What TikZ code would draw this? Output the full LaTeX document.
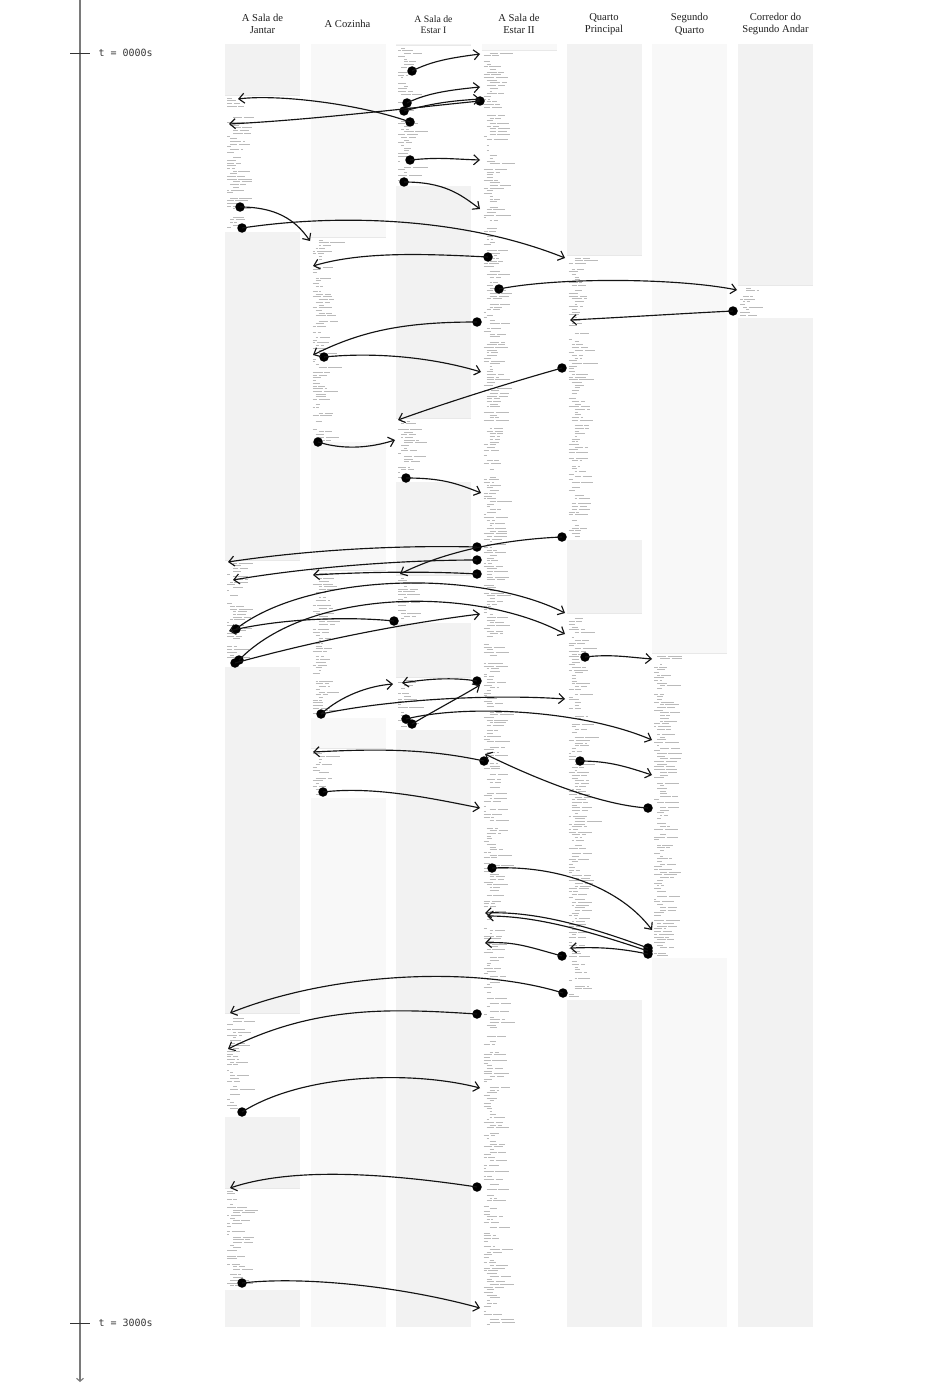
\documentclass[tikz,border=0pt]{standalone}
\usepackage{fontspec}
\setmainfont{Liberation Serif}
\newfontfamily\monof{DejaVu Sans Mono}
\usetikzlibrary{arrows.meta}
\definecolor{bgA}{HTML}{F2F2F2}
\definecolor{bgB}{HTML}{F8F8F8}
\definecolor{hdr}{HTML}{1E1E1E}
\definecolor{axisc}{HTML}{7A7A7A}
\tikzset{
 conn/.style={line width=1.15pt, black!92, -{Straight Barb[length=5.5pt,width=10pt]}},
 dot/.style={circle, fill=black, inner sep=0pt, minimum size=9.5pt},
 hdrnode/.style={align=center, font=\fontsize{10.6}{12.5}\selectfont, text=hdr},
 txt/.style={line width=0.55pt, black!27},
 tlab/.style={anchor=west, font=\monof\fontsize{10}{12}\selectfont, text=black!78},
}
\newcommand\colbg[2]{\fill[#2] (#1,44) rectangle (#1+75,1327);}
\newcommand\tblock[3]{%
  \fill[white] (#1,#2) rectangle (#1+75,#3);
  \draw[black!9, line width=0.4pt] (#1,#2) -- (#1+75,#2);
  \pgfmathtruncatemacro\tbn{(#3-#2-5)/2.7}%
  \foreach \i in {0,...,\tbn}{%
    \pgfmathsetmacro\tbla{2+9*rnd}%
    \pgfmathsetmacro\tblb{(rnd<0.55)*(2+13*rnd)}%
    \pgfmathsetmacro\tbx{#1+2+3*floor(3*rnd)}%
    \pgfmathsetmacro\tbskip{rnd}%
    \ifdim\tbskip pt>0.86pt\else
      \draw[txt] (\tbx,{#2+3+\i*2.7}) -- ++(\tbla,0) ++(1.6,0) -- ++(\tblb,0);
    \fi
  }%
}
\begin{document}
\begin{tikzpicture}[x=1pt,y=-1pt]
\useasboundingbox (0,0) rectangle (945,1391);
\pgfmathsetseed{4242}
% ---- timeline
\coordinate (axtop) at (80,0);
\coordinate (axbot) at (80,1382);
\draw[axisc, line width=1.1pt, -{Straight Barb[length=3pt,width=7pt]}] (axtop) -- (axbot);
\coordinate (tk0a) at (70,53); \coordinate (tk0b) at (90,53);
\coordinate (tk1a) at (70,1323); \coordinate (tk1b) at (90,1323);
\draw[black!80, line width=0.8pt] (tk0a) -- (tk0b);
\draw[black!80, line width=0.8pt] (tk1a) -- (tk1b);
\node[tlab] (lab0) at (95,53) {t = 0000s};
\node[tlab] (lab1) at (95,1323) {t = 3000s};
% ---- headers
\node[hdrnode] (h1) at (262.5,24) {A Sala de\\Jantar};
\node[hdrnode] (h2) at (347.5,24) {A Cozinha};
\node[hdrnode, font=\fontsize{9.8}{11.5}\selectfont] (h3) at (433.5,24.5) {A Sala de\\Estar I};
\node[hdrnode] (h4) at (519,24) {A Sala de\\Estar II};
\node[hdrnode] (h5) at (604,24) {Quarto\\Principal};
\node[hdrnode] (h6) at (689.5,24) {Segundo\\Quarto};
\node[hdrnode] (h7) at (775.5,24) {Corredor do\\Segundo Andar};
% ---- column backgrounds
\colbg{225}{bgA}
\colbg{310.5}{bgB}
\colbg{396}{bgA}
\colbg{481.5}{bgB}
\colbg{566.5}{bgA}
\colbg{652}{bgB}
\colbg{738}{bgA}
% ---- text blocks
\tblock{225}{95}{232}
\tblock{225}{560}{667}
\tblock{225}{1013}{1117}
\tblock{225}{1188}{1290}
\tblock{310.5}{237}{442}
\tblock{310.5}{570}{718}
\tblock{310.5}{748}{798}
\tblock{396}{45}{186}
\tblock{396}{418}{482}
\tblock{396}{575}{623}
\tblock{396}{677}{730}
\tblock{481.5}{50}{1327}
\tblock{566.5}{255}{540}
\tblock{566.5}{613}{1000}
\tblock{652}{653}{958}
\tblock{738}{285}{318}
% ---- start dots
\node[dot] (s1) at (412,71) {};
\node[dot] (s2) at (407,103) {};
\node[dot] (s3) at (404,111) {};
\node[dot] (s4) at (480,101) {};
\node[dot] (s5) at (410,122) {};
\node[dot] (s6) at (410,160) {};
\node[dot] (s7) at (404,182) {};
\node[dot] (s8) at (240,207) {};
\node[dot] (s9) at (242,228) {};
\node[dot] (s10) at (488,257) {};
\node[dot] (s11) at (499,289) {};
\node[dot] (s12) at (733,311) {};
\node[dot] (s13) at (477,322) {};
\node[dot] (s14) at (324,357) {};
\node[dot] (s15) at (562,368) {};
\node[dot] (s16) at (318,442) {};
\node[dot] (s17) at (406,478) {};
\node[dot] (s18) at (562,537) {};
\node[dot] (s19) at (477,547) {};
\node[dot] (s20) at (477,560) {};
\node[dot] (s21) at (477,574) {};
\node[dot] (s22) at (236,629) {};
\node[dot] (s23) at (394,621) {};
\node[dot] (s24) at (239,660) {};
\node[dot] (s25) at (235,663) {};
\node[dot] (s26) at (321,714) {};
\node[dot] (s28) at (477,681) {};
\node[dot] (s29) at (406,719) {};
\node[dot] (s30) at (412,724) {};
\node[dot] (s31) at (585,657) {};
\node[dot] (s32) at (484,761) {};
\node[dot] (s33) at (648,808) {};
\node[dot] (s34) at (580,761) {};
\node[dot] (s35) at (323,792) {};
\node[dot] (s36) at (492,868) {};
\node[dot] (s37) at (648,948) {};
\node[dot] (s38) at (648,951) {};
\node[dot] (s39) at (648,954) {};
\node[dot] (s40) at (562,956) {};
\node[dot] (s41) at (563,993) {};
\node[dot] (s42) at (477,1014) {};
\node[dot] (s43) at (242,1112) {};
\node[dot] (s44) at (477,1187) {};
\node[dot] (s45) at (242,1283) {};
% ---- end points
\coordinate (e1) at (480,54);
\coordinate (e2) at (480,87);
\coordinate (e3) at (480,99);
\coordinate (e4) at (229,124);
\coordinate (e5) at (238,99);
\coordinate (e6) at (480,160);
\coordinate (e7) at (480,209);
\coordinate (e8) at (310,241);
\coordinate (e9) at (565,258);
\coordinate (e10) at (313,266);
\coordinate (e11) at (737,290);
\coordinate (e12) at (570,320);
\coordinate (e13) at (313,355);
\coordinate (e14) at (481,372);
\coordinate (e15) at (398,420);
\coordinate (e16) at (395,440);
\coordinate (e17) at (481,493);
\coordinate (e18) at (400,574);
\coordinate (e19) at (228,562);
\coordinate (e20) at (233,580);
\coordinate (e21) at (313,575);
\coordinate (e22) at (565,613);
\coordinate (e23) at (229,631);
\coordinate (e24) at (565,634);
\coordinate (e25) at (480,614);
\coordinate (e26) at (393,684);
\coordinate (e27) at (565,699);
\coordinate (e28) at (402,683);
\coordinate (e29) at (652,740);
\coordinate (e30) at (480,685);
\coordinate (e31) at (652,659);
\coordinate (e32) at (313,752);
\coordinate (e33) at (485,754);
\coordinate (e34) at (652,775);
\coordinate (e35) at (480,808);
\coordinate (e36) at (652,930);
\coordinate (e37) at (485,913);
\coordinate (e38) at (487,916);
\coordinate (e39) at (570,948);
\coordinate (e40) at (485,943);
\coordinate (e41) at (230,1013);
\coordinate (e42) at (228,1049);
\coordinate (e43) at (480,1088);
\coordinate (e44) at (230,1188);
\coordinate (e45) at (480,1308);
% ---- connectors
\draw[conn] (s1.center) .. controls +(20,-10) and +(-30,4) .. (e1);
\draw[conn] (s2.center) .. controls +(20,-10) and +(-30,3) .. (e2);
\draw[conn] (s3.center) .. controls +(30,-8) and +(-30,2) .. (e3);
\draw[conn] (s4.center) .. controls +(-80,8) and +(80,-4) .. (e4);
\draw[conn] (s5.center) .. controls +(-50,-18) and +(40,-5) .. (e5);
\draw[conn] (s6.center) .. controls +(30,-3) and +(-30,-1) .. (e6);
\draw[conn] (s7.center) .. controls +(40,0) and +(-20,-15) .. (e7);
\draw[conn] (s8.center) .. controls +(35,0) and +(-15,-22) .. (e8);
\draw[conn] (s9.center) .. controls +(100,-15) and +(-100,-40) .. (e9);
\draw[conn] (s10.center) .. controls +(-60,-3) and +(50,-15) .. (e10);
\draw[conn] (s11.center) .. controls +(60,-12) and +(-60,-12) .. (e11);
\draw[conn] (s12.center) .. controls +(-60,3) and +(60,-3) .. (e12);
\draw[conn] (s13.center) .. controls +(-70,0) and +(50,-25) .. (e13);
\draw[conn] (s14.center) .. controls +(50,-5) and +(-50,-15) .. (e14);
\draw[conn] (s15.center) .. controls +(-50,14) and +(50,-18) .. (e15);
\draw[conn] (s16.center) .. controls +(25,8) and +(-25,8) .. (e16);
\draw[conn] (s17.center) .. controls +(35,0) and +(-25,-10) .. (e17);
\draw[conn] (s18.center) .. controls +(-50,2) and +(50,-25) .. (e18);
\draw[conn] (s19.center) .. controls +(-80,-2) and +(80,-12) .. (e19);
\draw[conn] (s20.center) .. controls +(-80,0) and +(70,-12) .. (e20);
\draw[conn] (s21.center) .. controls +(-50,-3) and +(50,-3) .. (e21);
\draw[conn] (s22.center) .. controls +(70,-55) and +(-90,-45) .. (e22);
\draw[conn] (s23.center) .. controls +(-50,-5) and +(50,-12) .. (e23);
\draw[conn] (s24.center) .. controls +(70,-72) and +(-90,-48) .. (e24);
\draw[conn] (s25.center) .. controls +(80,-22) and +(-80,10) .. (e25);
\draw[conn] (s26.center) .. controls +(20,-18) and +(-25,2) .. (e26);
\draw[conn] (s26.center) .. controls +(70,-15) and +(-70,-5) .. (e27);
\draw[conn] (s28.center) .. controls +(-25,-4) and +(25,-4) .. (e28);
\draw[conn] (s29.center) .. controls +(60,-15) and +(-70,-30) .. (e29);
\draw[conn] (s30.center) .. controls +(20,-12) and +(-20,12) .. (e30);
\draw[conn] (s31.center) .. controls +(25,-3) and +(-25,-2) .. (e31);
\draw[conn] (s32.center) .. controls +(-60,-13) and +(60,-3) .. (e32);
\draw[conn] (s33.center) .. controls +(-50,-3) and +(45,22) .. (e33);
\draw[conn] (s34.center) .. controls +(30,0) and +(-25,-8) .. (e34);
\draw[conn] (s35.center) .. controls +(50,-6) and +(-50,-10) .. (e35);
\draw[conn] (s36.center) .. controls +(70,-3) and +(-30,-40) .. (e36);
\draw[conn] (s37.center) .. controls +(-60,-22) and +(50,-2) .. (e37);
\draw[conn] (s38.center) .. controls +(-60,-20) and +(50,0) .. (e38);
\draw[conn] (s39.center) .. controls +(-30,-6) and +(30,-1) .. (e39);
\draw[conn] (s40.center) .. controls +(-30,-8) and +(30,-2) .. (e40);
\draw[conn] (s41.center) .. controls +(-90,-28) and +(100,-40) .. (e41);
\draw[conn] (s42.center) .. controls +(-80,-5) and +(90,-45) .. (e42);
\draw[conn] (s43.center) .. controls +(60,-38) and +(-70,-18) .. (e43);
\draw[conn] (s44.center) .. controls +(-100,-15) and +(60,-20) .. (e44);
\draw[conn] (s45.center) .. controls +(60,-7) and +(-80,-22) .. (e45);
\end{tikzpicture}
\end{document}
